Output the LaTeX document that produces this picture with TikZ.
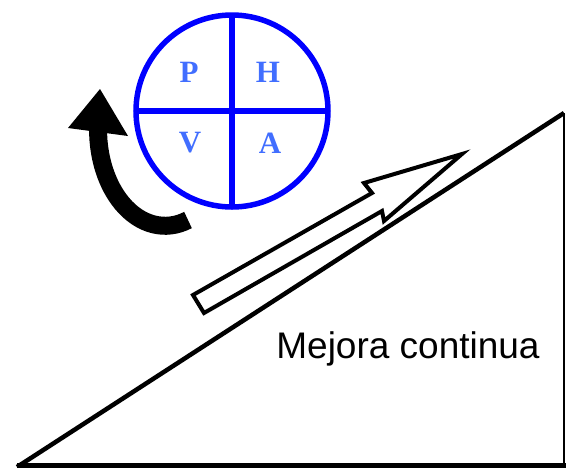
\documentclass[tikz,border=0pt]{standalone}
\usepackage{fontspec}
\setmainfont{Liberation Sans}
\newfontfamily\phvafont{Liberation Serif}
\usepackage{xcolor}
\definecolor{phvablue}{RGB}{0,0,255}
\definecolor{letterblue}{RGB}{65,110,255}

\tikzset{
  pdcaline/.style={draw=phvablue, line width=5.5pt},
  pdcaletter/.style={text=letterblue, font=\phvafont\bfseries\fontsize{31}{31}\selectfont},
  rampline/.style={draw=black, line width=4.5pt, line join=miter},
}

\begin{document}
\begin{tikzpicture}[x=1pt, y=-1pt]
\useasboundingbox (0,0) rectangle (566,467);

% ramp
\draw[rampline] (17,467) -- (564,113);
\draw[black, line width=1.2pt] (564,113) -- (564,467);
\fill[black] (17,463) rectangle (566,468);

% PHVA circle
\coordinate (c) at (232,111);
\draw[pdcaline] (c) circle (96);
\draw[pdcaline] (136,111) -- (328,111);
\draw[pdcaline] (232,15) -- (232,207);
\path (189,72) node[pdcaletter] (p) {P};
\path (268,72) node[pdcaletter] (h) {H};
\path (190,143) node[pdcaletter] (v) {V};
\path (270,143) node[pdcaletter] (a) {A};

% curved black arrow
\draw[black, line width=18pt] (188,220) arc[start angle=70, end angle=180, x radius=67, y radius=96] -- (98,128);
\fill[black] (100,89) -- (128,136) -- (68,128) -- cycle;

% hollow arrow up the ramp
\draw[black, line width=4pt, line join=miter, fill=white]
  (193,295) -- (372,193) -- (364,183) -- (462,154) -- (384,221) -- (382,211) -- (204,313) -- cycle;

\path (408,349) node[font=\fontsize{37}{37}\selectfont] (mc) {Mejora continua};
\end{tikzpicture}
\end{document}
